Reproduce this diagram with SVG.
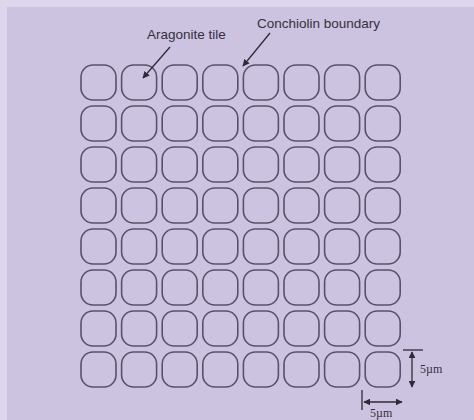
<svg xmlns="http://www.w3.org/2000/svg" width="474" height="420" viewBox="0 0 474 420">
<defs>
<style>
.tile{fill:none;stroke:#5a5168;stroke-width:1.6}
.lbl{font-family:"Liberation Sans",Arial,sans-serif;font-size:13.5px;fill:#35303d}
.dim{font-family:"Liberation Serif","Times New Roman",serif;font-size:12px;fill:#35303d}
.ln{stroke:#2f2a36;stroke-width:1.3;fill:none}
</style>
<marker id="ah" viewBox="0 0 10 10" refX="9" refY="5" markerWidth="7" markerHeight="7" orient="auto-start-reverse" markerUnits="userSpaceOnUse">
<path d="M0,0 L10,5 L0,10 z" fill="#2f2a36"/>
</marker>
<rect id="t" width="35" height="35" rx="12" ry="12" class="tile"/>
</defs>
<rect width="474" height="420" fill="#ddd6ec"/>
<rect x="7" y="7" width="467" height="413" fill="#ccc3e1"/>
<g id="tiles">
<g id="row1"><use href="#t" x="81" y="65"/><use href="#t" x="121.6" y="65"/><use href="#t" x="162.2" y="65"/><use href="#t" x="202.8" y="65"/><use href="#t" x="243.4" y="65"/><use href="#t" x="284" y="65"/><use href="#t" x="324.6" y="65"/><use href="#t" x="365.2" y="65"/></g>
<g id="row2"><use href="#t" x="81" y="106"/><use href="#t" x="121.6" y="106"/><use href="#t" x="162.2" y="106"/><use href="#t" x="202.8" y="106"/><use href="#t" x="243.4" y="106"/><use href="#t" x="284" y="106"/><use href="#t" x="324.6" y="106"/><use href="#t" x="365.2" y="106"/></g>
<g id="row3"><use href="#t" x="81" y="147"/><use href="#t" x="121.6" y="147"/><use href="#t" x="162.2" y="147"/><use href="#t" x="202.8" y="147"/><use href="#t" x="243.4" y="147"/><use href="#t" x="284" y="147"/><use href="#t" x="324.6" y="147"/><use href="#t" x="365.2" y="147"/></g>
<g id="row4"><use href="#t" x="81" y="188"/><use href="#t" x="121.6" y="188"/><use href="#t" x="162.2" y="188"/><use href="#t" x="202.8" y="188"/><use href="#t" x="243.4" y="188"/><use href="#t" x="284" y="188"/><use href="#t" x="324.6" y="188"/><use href="#t" x="365.2" y="188"/></g>
<g id="row5"><use href="#t" x="81" y="229"/><use href="#t" x="121.6" y="229"/><use href="#t" x="162.2" y="229"/><use href="#t" x="202.8" y="229"/><use href="#t" x="243.4" y="229"/><use href="#t" x="284" y="229"/><use href="#t" x="324.6" y="229"/><use href="#t" x="365.2" y="229"/></g>
<g id="row6"><use href="#t" x="81" y="270"/><use href="#t" x="121.6" y="270"/><use href="#t" x="162.2" y="270"/><use href="#t" x="202.8" y="270"/><use href="#t" x="243.4" y="270"/><use href="#t" x="284" y="270"/><use href="#t" x="324.6" y="270"/><use href="#t" x="365.2" y="270"/></g>
<g id="row7"><use href="#t" x="81" y="311"/><use href="#t" x="121.6" y="311"/><use href="#t" x="162.2" y="311"/><use href="#t" x="202.8" y="311"/><use href="#t" x="243.4" y="311"/><use href="#t" x="284" y="311"/><use href="#t" x="324.6" y="311"/><use href="#t" x="365.2" y="311"/></g>
<g id="row8"><use href="#t" x="81" y="352"/><use href="#t" x="121.6" y="352"/><use href="#t" x="162.2" y="352"/><use href="#t" x="202.8" y="352"/><use href="#t" x="243.4" y="352"/><use href="#t" x="284" y="352"/><use href="#t" x="324.6" y="352"/><use href="#t" x="365.2" y="352"/></g>
</g>
<g id="label-aragonite"><text class="lbl" x="147" y="39">Aragonite tile</text></g>
<g id="label-conchiolin"><text class="lbl" x="257" y="28">Conchiolin boundary</text></g>
<g id="scale-v"><text class="dim" x="420" y="373">5µm</text></g>
<g id="scale-h"><text class="dim" x="370" y="417">5µm</text></g>
<g id="connectors">
<line class="ln" x1="170" y1="47" x2="143" y2="78" marker-end="url(#ah)"/>
<line class="ln" x1="270" y1="33" x2="243" y2="66" marker-end="url(#ah)"/>
<line class="ln" x1="403" y1="350" x2="423" y2="350"/>
<line class="ln" x1="412" y1="352" x2="412" y2="387" marker-start="url(#ah)" marker-end="url(#ah)"/>
<line class="ln" x1="362" y1="390" x2="362" y2="410"/>
<line class="ln" x1="364" y1="402" x2="402" y2="402" marker-start="url(#ah)" marker-end="url(#ah)"/>
</g>
</svg>
